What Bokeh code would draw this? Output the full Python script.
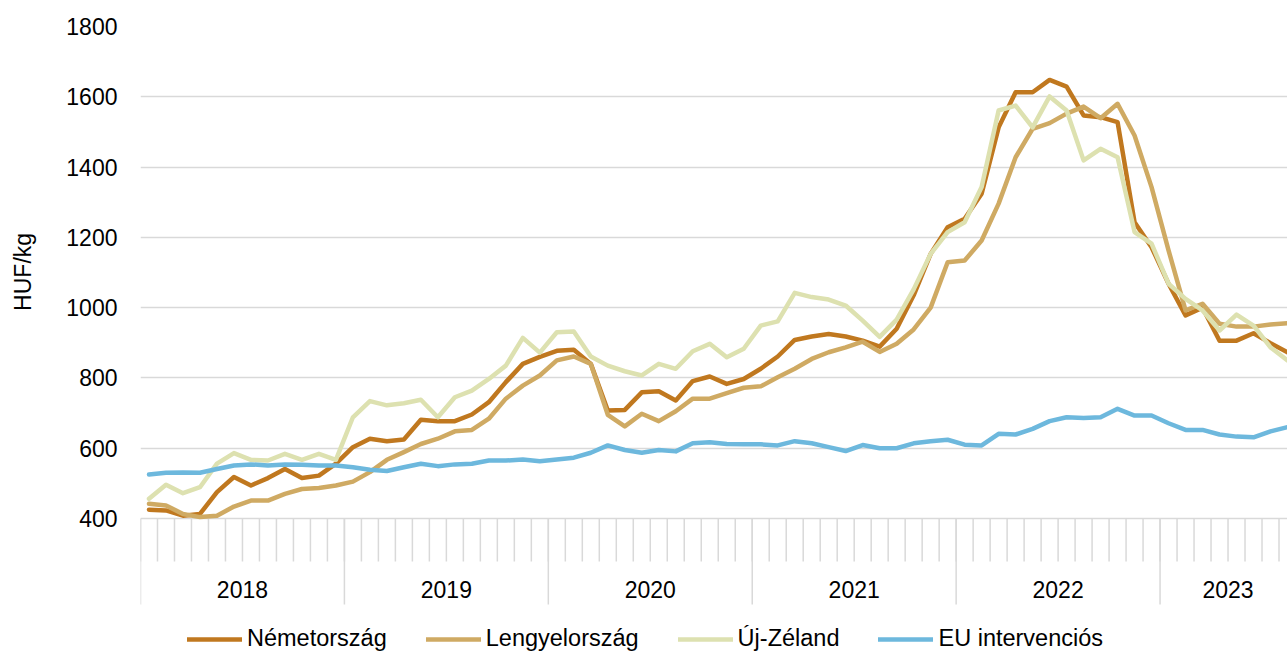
from bokeh.plotting import figure
from bokeh.models import FixedTicker, Legend, LegendItem
from bokeh.core.properties import value
from bokeh.embed import file_html
from bokeh.resources import INLINE

# ---------------- data ----------------
years = ["2018", "2019", "2020", "2021", "2022", "2023"]
months_per_year = [12, 12, 12, 12, 12, 8]

series_names = ["Németország", "Lengyelország", "Új-Zéland", "EU intervenciós"]

nemetorszag = [425, 423, 408, 413, 475, 518, 494, 515, 541, 515, 522, 556,
               603, 627, 620, 625, 681, 677, 677, 696, 731, 788, 840, 860,
               877, 880, 840, 707, 709, 759, 762, 736, 791, 804, 783, 797,
               826, 861, 908, 918, 925, 918, 906, 889, 940, 1035, 1153, 1229,
               1253, 1324, 1513, 1613, 1613, 1648, 1629, 1547, 1542, 1528, 1243, 1172,
               1068, 978, 1000, 906, 906, 927, 899, 873]

lengyelorszag = [442, 437, 413, 404, 408, 434, 451, 451, 470, 484, 487, 494,
                 505, 532, 567, 589, 612, 627, 648, 652, 684, 741, 778, 807,
                 850, 861, 840, 695, 662, 698, 677, 705, 741, 741, 757, 772,
                 776, 802, 826, 854, 873, 887, 903, 874, 897, 938, 1000, 1129,
                 1134, 1191, 1296, 1428, 1509, 1525, 1552, 1572, 1539, 1580, 1490, 1343,
                 1163, 992, 1011, 954, 946, 946, 952, 956]

uj_zeland = [456, 496, 472, 489, 556, 586, 567, 565, 584, 567, 584, 567,
             688, 734, 722, 728, 738, 688, 745, 764, 797, 835, 914, 872,
             930, 932, 861, 835, 819, 807, 840, 826, 876, 897, 859, 883,
             949, 961, 1042, 1030, 1023, 1006, 963, 917, 966, 1052, 1153, 1215,
             1243, 1343, 1561, 1575, 1513, 1601, 1561, 1419, 1452, 1428, 1215, 1182,
             1068, 1025, 992, 935, 980, 949, 887, 850]

eu_intervencios = [525, 530, 531, 530, 541, 551, 554, 551, 554, 553, 551, 551,
                   546, 539, 535, 546, 556, 549, 554, 556, 565, 565, 568, 563,
                   568, 573, 587, 608, 595, 587, 595, 591, 614, 617, 612, 611,
                   611, 608, 620, 614, 603, 592, 609, 600, 600, 614, 620, 624,
                   610, 608, 641, 639, 655, 677, 688, 686, 688, 712, 693, 693,
                   671, 652, 652, 639, 633, 631, 648, 660]

y_ticks = [400, 600, 800, 1000, 1200, 1400, 1600, 1800]
y_title = "HUF/kg"

# ---------------- styling / layout constants ----------------
colors = ["#C0781F", "#CFAA63", "#DDE1B0", "#6DB8DD"]
grid_color = "#D9D9D9"
FONT = "Liberation Sans"
FONT_PX = 23

n_months = sum(months_per_year)
xs = [i + 0.5 for i in range(n_months)]

# pixel geometry (screen coords of reference)
frame_left = 140
frame_top = 26
y400_px = 518
canvas_w = 1287
canvas_h = 651
px_per_unit = (y400_px - frame_top) / (y_ticks[-1] - y_ticks[0])
frame_h = canvas_h - frame_top
y_min = y_ticks[-1] - frame_h / px_per_unit


def y_at(py):
    return y_ticks[0] - (py - y400_px) / px_per_unit


p = figure(width=canvas_w, height=canvas_h,
           x_range=(0, n_months - 0.5), y_range=(y_min, y_ticks[-1]),
           output_backend="svg", toolbar_location=None,
           min_border_left=frame_left, min_border_right=0,
           min_border_top=frame_top, min_border_bottom=0)
p.outline_line_color = None
p.background_fill_color = "white"
p.border_fill_color = "white"

p.xaxis.visible = False
p.xgrid.visible = False
p.ygrid.ticker = FixedTicker(ticks=y_ticks)
p.ygrid.grid_line_color = grid_color
p.ygrid.grid_line_width = 1.5

yax = p.yaxis[0]
yax.ticker = FixedTicker(ticks=y_ticks)
yax.axis_line_color = None
yax.major_tick_line_color = None
yax.minor_tick_line_color = None
yax.major_tick_out = 0
yax.major_tick_in = 0
yax.minor_tick_out = 0
yax.minor_tick_in = 0
yax.major_label_standoff = 23
yax.major_label_text_font = FONT
yax.major_label_text_font_size = f"{FONT_PX}px"
yax.major_label_text_color = "#000000"

# The axis title is centred on the whole (extended) frame; pad it with
# non-breaking spaces so the visible text sits centred on the 400-1800 band.
frame_mid = (frame_top + canvas_h) / 2
band_mid = (frame_top + y400_px) / 2
nbsp_w = 0.278 * FONT_PX
n_pad = round(2 * (frame_mid - band_mid) / nbsp_w)
yax.axis_label = "\u00a0" * n_pad + y_title
yax.axis_label_standoff = 27
yax.axis_label_text_font = FONT
yax.axis_label_text_font_size = f"{FONT_PX}px"
yax.axis_label_text_font_style = "normal"
yax.axis_label_text_color = "#000000"

# category axis: month ticks, year separators, year labels
month_bounds = list(range(n_months + 1))
p.segment(x0=month_bounds, y0=[y_ticks[0]] * len(month_bounds),
          x1=month_bounds, y1=[y_at(561)] * len(month_bounds),
          line_color=grid_color, line_width=1.5)

year_bounds = [0]
for m in months_per_year:
    year_bounds.append(year_bounds[-1] + m)
p.segment(x0=year_bounds, y0=[y_ticks[0]] * len(year_bounds),
          x1=year_bounds, y1=[y_at(604)] * len(year_bounds),
          line_color=grid_color, line_width=1.5)

year_centers = [(year_bounds[k] + year_bounds[k + 1]) / 2 for k in range(len(years))]
p.text(x=year_centers, y=[y_at(589)] * len(years), text=years,
       text_font=value(FONT), text_font_size=f"{FONT_PX}px", text_color="#000000",
       text_align="center", text_baseline="middle")

# series lines
renderers = []
for data, col in zip([nemetorszag, lengyelorszag, uj_zeland, eu_intervencios], colors):
    r = p.line(xs, data, line_color=col, line_width=4.5, line_join="round", line_cap="round")
    renderers.append(r)

legend = Legend(items=[LegendItem(label=n, renderers=[r]) for n, r in zip(series_names, renderers)],
                orientation="horizontal", location=(47, -1),
                glyph_width=55, glyph_height=24, label_height=24, label_width=0,
                label_standoff=5, spacing=39, padding=0, margin=0,
                border_line_color=None, background_fill_alpha=0,
                label_text_font=FONT, label_text_font_size="23.5px",
                label_text_color="#000000", label_text_baseline="middle")
p.add_layout(legend)

open("out.html", "w").write(file_html(p, INLINE))
